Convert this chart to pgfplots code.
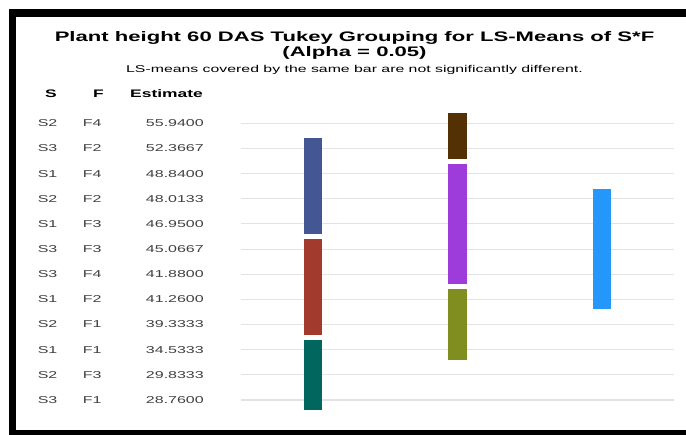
\documentclass[border=0pt]{standalone}
\usepackage{fontspec}
\setmainfont{Liberation Sans}[FakeStretch=1.6]
\usepackage{pgfplots}
\pgfplotsset{compat=1.18}

\definecolor{gd1}{HTML}{445694}
\definecolor{gd2}{HTML}{A23A2E}
\definecolor{gd3}{HTML}{01665E}
\definecolor{gd4}{HTML}{543005}
\definecolor{gd5}{HTML}{9D3CDB}
\definecolor{gd6}{HTML}{7F8E1F}
\definecolor{gd7}{HTML}{2597FA}

% one row of the table on the left: S, F, estimate
\newcommand{\row}[3]{\makebox[45bp][l]{#1}\makebox[40bp][l]{#2}\makebox[81bp][r]{#3}}

\begin{document}
\begin{tikzpicture}
\useasboundingbox (0,0) rectangle (686bp,-435bp);
\fill[white] (0,0) rectangle (686bp,-435bp);
% frame
\fill[black] (9bp,-9bp) rectangle (686bp,-17bp);
\fill[black] (9bp,-9bp) rectangle (16bp,-435bp);
\fill[black] (9bp,-430bp) rectangle (686bp,-435bp);

% titles
\node[anchor=base, inner sep=0pt, font=\fontsize{13.8bp}{16bp}\selectfont\bfseries]
  at (354.5bp,-41bp) {Plant height 60 DAS Tukey Grouping for LS-Means of S*F};
\node[anchor=base, inner sep=0pt, font=\fontsize{13.8bp}{16bp}\selectfont\bfseries]
  at (354.5bp,-56bp) {(Alpha = 0.05)};
\node[anchor=base, inner sep=0pt, font=\fontsize{9.9bp}{12bp}\selectfont]
  at (354.5bp,-72bp) {LS-means covered by the same bar are not significantly different.};

% column headers
\begin{scope}[every node/.style={anchor=base west, inner sep=0pt, font=\fontsize{10.9bp}{13bp}\selectfont\bfseries}]
\node at (45bp,-97bp) {S};
\node at (93bp,-97bp) {F};
\node at (130bp,-97bp) {Estimate};
\end{scope}

\begin{axis}[
  scale only axis, width=433bp, height=301.9bp,
  at={(241bp,-110.7bp)}, anchor=north west,
  xmin=0.5, xmax=3.5, ymin=0.5, ymax=12.5, y dir=reverse,
  hide x axis, axis line style={draw=none},
  ytick={1,...,12}, ymajorgrids, major tick length=0pt,
  grid style={line width=1.1bp, black!11},
  yticklabels={
    {\row{S2}{F4}{55.9400}}, {\row{S3}{F2}{52.3667}}, {\row{S1}{F4}{48.8400}},
    {\row{S2}{F2}{48.0133}}, {\row{S1}{F3}{46.9500}}, {\row{S3}{F3}{45.0667}},
    {\row{S3}{F4}{41.8800}}, {\row{S1}{F2}{41.2600}}, {\row{S2}{F1}{39.3333}},
    {\row{S1}{F1}{34.5333}}, {\row{S2}{F3}{29.8333}}, {\row{S3}{F1}{28.7600}}},
  yticklabel style={anchor=east, inner sep=0pt, text=black!75,
    font=\fontsize{10bp}{12bp}\selectfont},
  yticklabel shift=37bp,
  clip=false,
  every axis plot/.append style={line width=18.5bp},
]
% group bars: from the first covered row to the last one
\addplot[gd1] coordinates {(1,1.6) (1,5.4)};
\addplot[gd2] coordinates {(1,5.6) (1,9.4)};
\addplot[gd3] coordinates {(1,9.6) (1,12.4)};
\addplot[gd4] coordinates {(2,0.6) (2,2.4)};
\addplot[gd5] coordinates {(2,2.6) (2,7.4)};
\addplot[gd6] coordinates {(2,7.6) (2,10.4)};
\addplot[gd7] coordinates {(3,3.6) (3,8.4)};
\end{axis}
\end{tikzpicture}
\end{document}
